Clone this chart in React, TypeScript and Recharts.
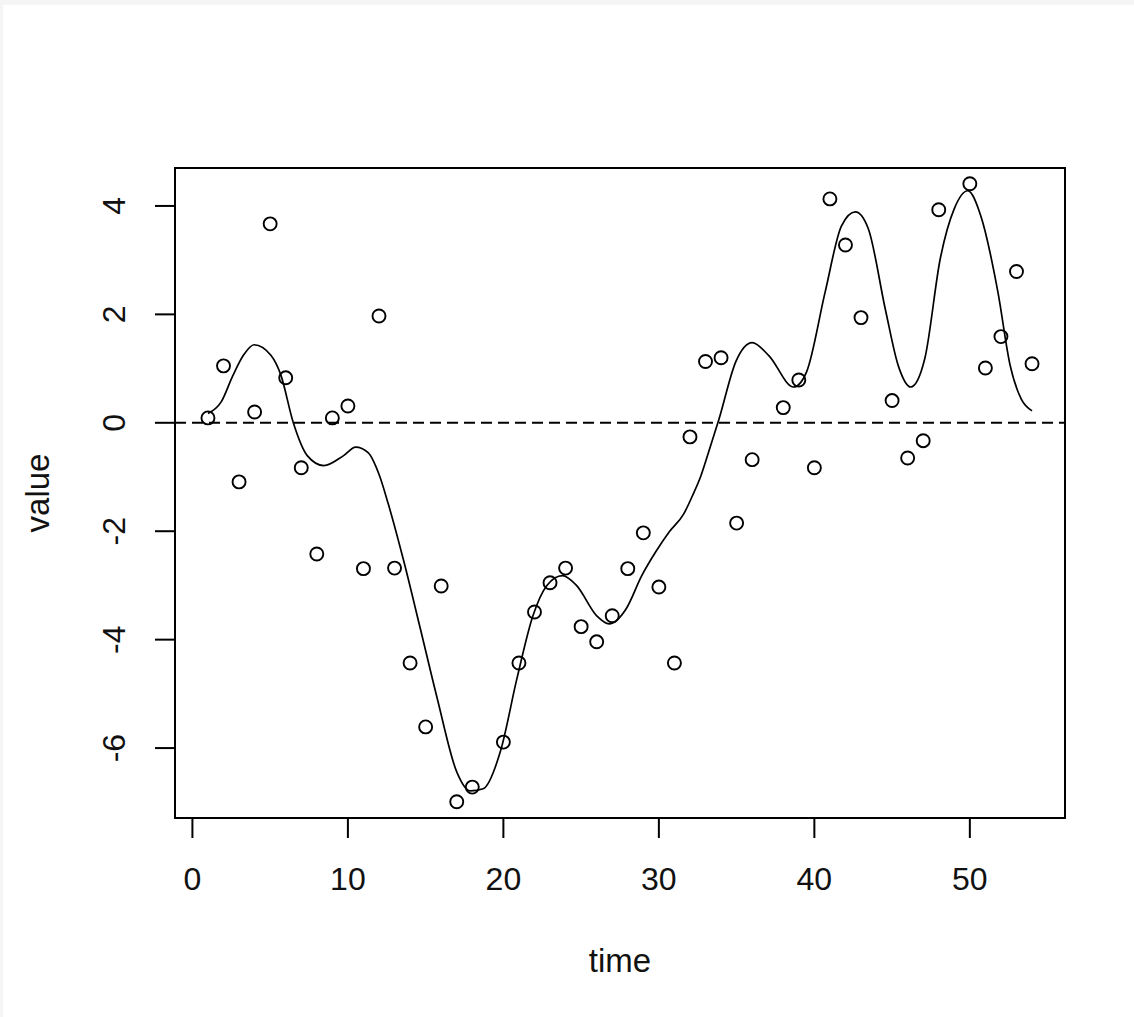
import { ComposedChart, Line, Scatter, XAxis, YAxis, ReferenceLine, ReferenceArea } from 'recharts'

// observed points (time 19, 37, 44, 49 are missing in the plot)
const obsTime = [
  1, 2, 3, 4, 5, 6, 7, 8, 9, 10, 11, 12, 13, 14, 15, 16, 17, 18, 20, 21, 22, 23, 24, 25, 26, 27, 28, 29, 30,
  31, 32, 33, 34, 35, 36, 38, 39, 40, 41, 42, 43, 45, 46, 47, 48, 50, 51, 52, 53, 54,
]
const obsValue = [
  0.09, 1.05, -1.09, 0.2, 3.67, 0.83, -0.83, -2.42, 0.09, 0.31, -2.69, 1.97, -2.68, -4.43, -5.61, -3.01, -6.99,
  -6.72, -5.89, -4.43, -3.49, -2.95, -2.68, -3.76, -4.04, -3.56, -2.69, -2.03, -3.03, -4.43, -0.26, 1.13, 1.2,
  -1.85, -0.68, 0.28, 0.79, -0.83, 4.13, 3.28, 1.94, 0.41, -0.65, -0.33, 3.93, 4.41, 1.01, 1.59, 2.79, 1.09,
]

// smoothed fit
const fitTime = [
  1, 1.86, 2.6, 3.27, 3.97, 5.06, 5.7, 6.47, 7.4, 8.45, 9.7, 10.5, 11.3, 12.0, 12.6, 13.6, 14.66, 15.75, 17.0,
  17.86, 18.7, 19.8, 20.87, 21.9, 22.8, 23.8, 24.7, 26.0, 26.8, 27.9, 28.9, 29.8, 30.67, 31.6, 32.2, 32.7, 33.2,
  33.87, 34.95, 36.0, 37.07, 38.67, 39.5, 40.7, 41.74, 42.64, 43.47, 44.56, 45.4, 46.2, 47.1, 48.1, 49.0, 49.87,
  50.7, 51.8, 52.6, 53.3, 54,
]
const fitValue = [
  0.17, 0.39, 0.87, 1.24, 1.44, 1.24, 0.87, 0.02, -0.61, -0.79, -0.61, -0.45, -0.55, -0.95, -1.5, -2.56, -3.8,
  -5.09, -6.44, -6.79, -6.75, -6.07, -4.72, -3.56, -3.0, -2.82, -3.0, -3.56, -3.71, -3.43, -2.82, -2.38, -2.01,
  -1.68, -1.32, -0.98, -0.54, 0.07, 1.13, 1.48, 1.24, 0.66, 0.94, 2.42, 3.63, 3.89, 3.58, 2.1, 1.05, 0.66, 1.18,
  3.03, 3.95, 4.28, 3.82, 2.42, 1.05, 0.44, 0.22,
]

const xTicks = [0, 10, 20, 30, 40, 50]
const yTicks = [-6, -4, -2, 0, 2, 4]
const xDomain = [-1.12, 56.12]
const yDomain = [-7.29, 4.7]

const points = obsTime.map((t, i) => ({ t, v: obsValue[i] }))
const fit = fitTime.map((t, i) => ({ t, f: fitValue[i] }))

const FONT = '"Liberation Sans", Arial, sans-serif'
const INK = '#111'

const YTick = (props: any) => {
  const { y, payload } = props
  const x = 125
  return (
    <text x={x} y={y} transform={`rotate(-90 ${x} ${y})`} textAnchor="middle" fontFamily={FONT} fontSize={32} fill={INK}>
      {payload.value}
    </text>
  )
}

const Circle = (p: any) => <circle cx={p.cx} cy={p.cy} r={6.5} fill="none" stroke="#000" strokeWidth={1.9} />

export default function App() {
  return (
    <div style={{ position: 'absolute', left: 0, top: 0, width: 1134, height: 1017, background: '#fff' }}>
      <ComposedChart width={1134} height={1017} margin={{ top: 168, right: 69, left: 0, bottom: 45 }}>
        <XAxis
          type="number"
          dataKey="t"
          domain={xDomain}
          ticks={xTicks}
          allowDataOverflow
          axisLine={false}
          tickSize={20}
          tickMargin={29}
          height={154}
          tickLine={{ stroke: '#000', strokeWidth: 2 }}
          tick={{ fontFamily: FONT, fontSize: 32, fill: INK }}
          label={({ viewBox }: any) => (
            <text x={viewBox.x + viewBox.width / 2} y={viewBox.y + viewBox.height} textAnchor="middle" fontFamily={FONT} fontSize={33} fill={INK}>
              time
            </text>
          )}
        />
        <YAxis
          type="number"
          domain={yDomain}
          ticks={yTicks}
          allowDataOverflow
          axisLine={false}
          width={175}
          tickSize={20}
          tickLine={{ stroke: '#000', strokeWidth: 2 }}
          tick={<YTick />}
          label={({ viewBox }: any) => {
            const cx = 49
            const cy = viewBox.y + viewBox.height / 2
            return (
              <text x={cx} y={cy} transform={`rotate(-90 ${cx} ${cy})`} textAnchor="middle" fontFamily={FONT} fontSize={33} fill={INK}>
                value
              </text>
            )
          }}
        />
        <ReferenceLine y={0} stroke="#000" strokeWidth={1.9} strokeDasharray="11 6" />
        <Line data={fit} dataKey="f" type="monotone" stroke="#000" strokeWidth={1.7} dot={false} isAnimationActive={false} />
        <Scatter data={points} dataKey="v" shape={<Circle />} isAnimationActive={false} />
        <ReferenceArea x1={xDomain[0]} x2={xDomain[1]} y1={yDomain[0]} y2={yDomain[1]} fill="none" stroke="#000" strokeWidth={2} ifOverflow="visible" />
      </ComposedChart>
      <div style={{ position: 'absolute', left: 0, top: 0, width: 1134, height: 5, background: '#f5f5f5' }} />
      <div style={{ position: 'absolute', left: 0, top: 0, width: 3, height: 1017, background: '#f5f5f5' }} />
    </div>
  )
}
